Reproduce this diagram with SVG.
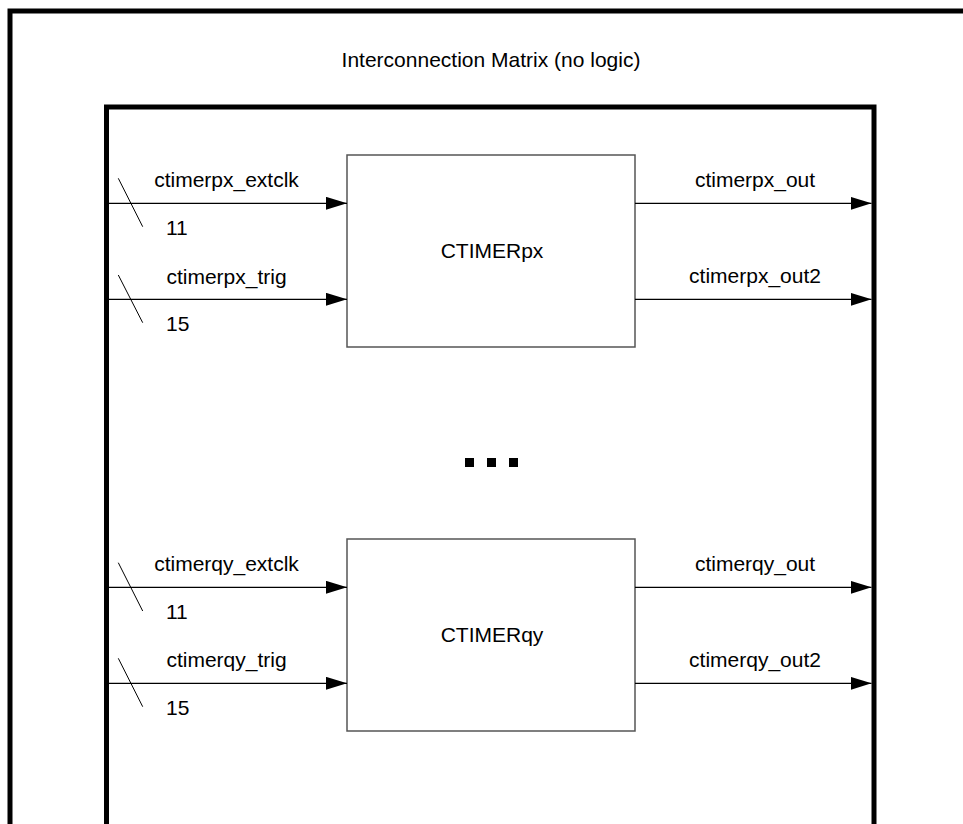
<svg xmlns="http://www.w3.org/2000/svg" width="963" height="824" viewBox="0 0 963 824">
<style>
text{font-family:"Liberation Sans",Arial,sans-serif;font-size:21px;fill:#000}
.frame{fill:none;stroke:#000;stroke-width:5}
.block{fill:#fff;stroke:#555;stroke-width:1.5}
.wire{stroke:#000;stroke-width:1.3;fill:none;marker-end:url(#ah)}
.slash{stroke:#000;stroke-width:1;fill:none}
.mid{text-anchor:middle}
</style>
<defs>
<marker id="ah" markerUnits="userSpaceOnUse" markerWidth="22" markerHeight="14" refX="21" refY="6.5" orient="auto">
<path d="M0,0 L21,6.5 L0,13 z" fill="#000"/>
</marker>
</defs>
<rect width="963" height="824" fill="#fff"/>
<g id="outer-frame">
<rect class="frame" x="10" y="11" width="1000" height="900"/>
<text class="mid" x="491" y="66.5">Interconnection Matrix (no logic)</text>
</g>
<g id="inner-frame">
<rect class="frame" x="106.5" y="107" width="767.5" height="800"/>
</g>
<g id="ctimerpx">
<rect class="block" x="347" y="155" width="288" height="192"/>
<text class="mid" x="492" y="257.5">CTIMERpx</text>
</g>
<g id="ellipsis">
<rect x="465" y="458" width="9" height="9" fill="#000"/>
<rect x="487" y="458" width="9" height="9" fill="#000"/>
<rect x="509" y="458" width="9" height="9" fill="#000"/>
</g>
<g id="ctimerqy">
<rect class="block" x="347" y="539" width="288" height="192"/>
<text class="mid" x="492" y="641.5">CTIMERqy</text>
</g>
<g id="connectors">
<line class="wire" x1="109" y1="203.3" x2="347" y2="203.3"/>
<line class="slash" x1="118.3" y1="178.3" x2="142.7" y2="226.7"/>
<text class="mid" x="226.5" y="186.7">ctimerpx_extclk</text>
<text x="166" y="235">11</text>
<line class="wire" x1="109" y1="299.3" x2="347" y2="299.3"/>
<line class="slash" x1="118.3" y1="275" x2="142.7" y2="322.7"/>
<text class="mid" x="226.5" y="284">ctimerpx_trig</text>
<text x="166" y="331">15</text>
<line class="wire" x1="635" y1="203.3" x2="871.5" y2="203.3"/>
<text class="mid" x="755" y="186.7">ctimerpx_out</text>
<line class="wire" x1="635" y1="299.3" x2="871.5" y2="299.3"/>
<text class="mid" x="755" y="283">ctimerpx_out2</text>
<line class="wire" x1="109" y1="587.3" x2="347" y2="587.3"/>
<line class="slash" x1="118.3" y1="562.7" x2="142.7" y2="611"/>
<text class="mid" x="226.5" y="570.7">ctimerqy_extclk</text>
<text x="166" y="619.3">11</text>
<line class="wire" x1="109" y1="683.3" x2="347" y2="683.3"/>
<line class="slash" x1="118.3" y1="658.3" x2="142.7" y2="706.7"/>
<text class="mid" x="226.5" y="667.3">ctimerqy_trig</text>
<text x="166" y="715.3">15</text>
<line class="wire" x1="635" y1="587.3" x2="871.5" y2="587.3"/>
<text class="mid" x="755" y="570.7">ctimerqy_out</text>
<line class="wire" x1="635" y1="683.3" x2="871.5" y2="683.3"/>
<text class="mid" x="755" y="667">ctimerqy_out2</text>
</g>
</svg>
